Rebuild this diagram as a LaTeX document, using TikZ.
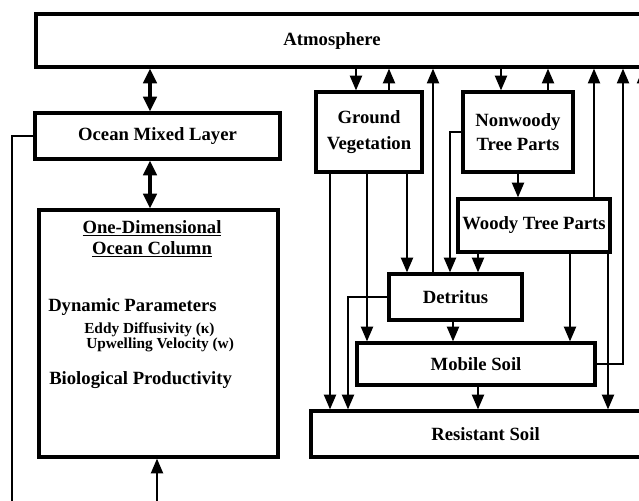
\documentclass[tikz,border=0pt]{standalone}
\usepackage{fontspec}
\setmainfont{Liberation Serif}
\usetikzlibrary{arrows.meta}
\begin{document}
\begin{tikzpicture}[x=0.75pt,y=-0.75pt,
  box/.style={draw, line width=2.4pt, inner sep=0pt, align=center, font=\fontsize{14}{19}\selectfont\bfseries},
  arr/.style={line width=1.4pt, -{Triangle[length=11pt,width=9pt]}},
  dbl/.style={line width=2.4pt, {Triangle[length=11pt,width=10pt]}-{Triangle[length=11pt,width=10pt]}},
  plain/.style={line width=1.4pt},
  lbl/.style={font=\fontsize{14}{17}\selectfont\bfseries, inner sep=0pt},
  small/.style={font=\fontsize{11.5}{12}\selectfont\bfseries, inner sep=0pt, anchor=west},
]
\useasboundingbox (0,0) rectangle (639,500);
\clip (0,0) rectangle (639,500);

% boxes
\node[box, minimum width=513pt, minimum height=39.75pt] (atm) at (378,40.5) {};
\node[lbl] (atmtxt) at (332,41) {Atmosphere};
\node[box, minimum width=183.75pt, minimum height=34.5pt] (oml) at (157.5,136) {Ocean Mixed Layer};
\node[box, minimum width=179.25pt, minimum height=185.25pt] (col) at (158.5,333.5) {};
\node[box, minimum width=79.5pt, minimum height=60pt, font=\fontsize{14}{20}\selectfont\bfseries] (gv) at (369,132) {Ground\\Vegetation};
\node[box, minimum width=82.5pt, minimum height=60pt, font=\fontsize{14}{18.5}\selectfont\bfseries] (ntp) at (518,132) {Nonwoody\\Tree Parts};
\node[box, minimum width=114pt, minimum height=39.75pt] (wtp) at (534,225.5) {Woody Tree Parts};
\node[box, minimum width=99.75pt, minimum height=34.5pt] (det) at (455.5,297) {Detritus};
\node[box, minimum width=178.5pt, minimum height=31.5pt] (ms) at (476,364) {Mobile Soil};
\node[box, minimum width=261.75pt, minimum height=34.5pt] (rs) at (485.5,434) {Resistant Soil};

% ocean column text
\node[lbl] (od1) at (152,228) {\underline{One-Dimensional}};
\node[lbl] (od2) at (152,249) {\underline{Ocean Column}};
\node[lbl, anchor=west] (dyn) at (48,307) {Dynamic Parameters};
\node[small] (eddy) at (84,330) {Eddy Diffusivity (κ)};
\node[small] (upw) at (86,345) {Upwelling Velocity (w)};
\node[lbl, anchor=west] (bio) at (49,380) {Biological Productivity};

% x positions
\foreach \xx in {150,330,348,356,367,389,407,433,450,453,478,501,518,548,570,594,608,623}
  \coordinate (x\xx) at (\xx,0);
\coordinate (oceanin) at (157,505);
\coordinate (leftbot) at (12,505);
\coordinate (edgeup) at (643,411);

% ocean side
\draw[dbl] (atm.south -| x150) -- (oml.north -| x150);
\draw[dbl] (oml.south -| x150) -- (col.north -| x150);
\draw[arr] (oceanin) -- (col.south -| oceanin);
\draw[plain] (oml.west) -- (oml.west -| leftbot) -- (leftbot);

% atmosphere exchanges
\draw[arr] (atm.south -| x356) -- (gv.north -| x356);
\draw[arr] (gv.north -| x389) -- (atm.south -| x389);
\draw[arr] (det.north -| x433) -- (atm.south -| x433);
\draw[arr] (atm.south -| x501) -- (ntp.north -| x501);
\draw[arr] (ntp.north -| x548) -- (atm.south -| x548);
\draw[arr] (wtp.north -| x594) -- (atm.south -| x594);
\draw[arr] (ms.east) -- (ms.east -| x623) -- (atm.south -| x623);
\draw[arr] (edgeup) -- (atm.south -| edgeup);

% vegetation flows
\draw[arr] (ntp.west) -- (ntp.west -| x450) -- (det.north -| x450);
\draw[arr] (ntp.south -| x518) -- (wtp.north -| x518);
\draw[arr] (gv.south -| x330) -- (rs.north -| x330);
\draw[arr] (gv.south -| x367) -- (ms.north -| x367);
\draw[arr] (gv.south -| x407) -- (det.north -| x407);
\draw[arr] (wtp.south -| x478) -- (det.north -| x478);
\draw[arr] (wtp.south -| x570) -- (ms.north -| x570);
\draw[arr] (wtp.south -| x608) -- (rs.north -| x608);

% soil flows
\draw[arr] (det.west) -- (det.west -| x348) -- (rs.north -| x348);
\draw[arr] (det.south -| x453) -- (ms.north -| x453);
\draw[arr] (ms.south -| x478) -- (rs.north -| x478);
\end{tikzpicture}
\end{document}
